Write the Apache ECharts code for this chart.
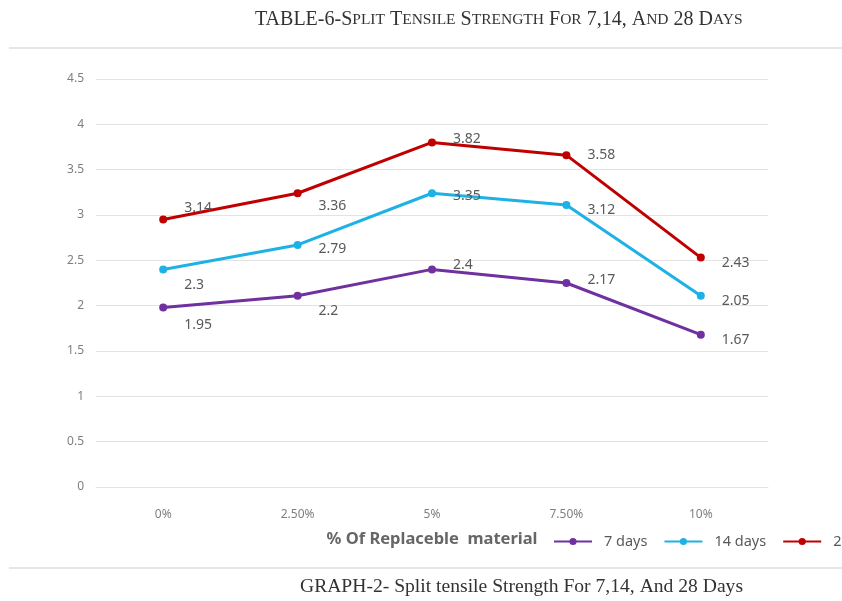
<!DOCTYPE html>
<html>
<head>
<meta charset="utf-8">
<script src="https://cdn.jsdelivr.net/npm/echarts@6/dist/echarts.min.js"></script>
<style>
  html, body { margin: 0; padding: 0; background: #fff; }
  #main { width: 842px; height: 601px; }
</style>
</head>
<body>
<div id="main"></div>
<script>
// categories on the x axis
const categories = ['0%', '2.50%', '5%', '7.50%', '10%'];
// plotted positions
const days7 = [1.98, 2.11, 2.40, 2.25, 1.68];
const days14 = [2.40, 2.67, 3.24, 3.11, 2.11];
const days28 = [2.95, 3.24, 3.80, 3.66, 2.53];
// data label texts printed next to each point
const labels7 = ['1.95', '2.2', '2.4', '2.17', '1.67'];
const labels14 = ['2.3', '2.79', '3.35', '3.12', '2.05'];
const labels28 = ['3.14', '3.36', '3.82', '3.58', '2.43'];
const seriesNames = ['7 days', '14 days', '28 days'];

// vertical nudge of each label (styling only)
const labelDy = [
  [18, 15, -4, -3, 5],
  [16, 4, 3, 5, 5],
  [-12, 13, -3, 0, 5]
];
const colors = ['#7030a0', '#1eb1e6', '#c00000'];

// turn "Split" into S + small "PLIT" for the small-caps title
const smallCaps = (str) => {
  let out = '';
  let run = '';
  let runSmall = null;
  const flush = () => {
    if (run) out += '{' + (runSmall ? 's' : 'b') + '|' + run + '}';
    run = '';
  };
  for (const ch of str) {
    const isSmall = ch !== ch.toUpperCase();
    if (runSmall !== null && isSmall !== runSmall) flush();
    runSmall = isSmall;
    run += ch.toUpperCase();
  }
  flush();
  return out;
};

const makeSeries = (i, values, texts) => ({
  name: seriesNames[i],
  type: 'line',
  data: values.map((v, k) => ({
    value: v,
    label: { offset: [0, labelDy[i][k]], formatter: texts[k] }
  })),
  symbol: 'circle',
  symbolSize: 8,
  lineStyle: { width: 3, color: colors[i] },
  itemStyle: { color: colors[i] },
  label: {
    show: true,
    position: 'right',
    distance: 17,
    color: '#595959',
    fontSize: 14,
    fontFamily: 'Noto Sans'
  },
  z: 3 + i
});

const chart = echarts.init(document.getElementById('main'), null, { renderer: 'canvas' });
chart.setOption({
  backgroundColor: '#fff',
  animation: false,
  title: {
    text: smallCaps('TABLE-6-Split Tensile Strength For 7,14, And 28 Days'),
    left: 250,
    top: 5,
    textStyle: {
      fontWeight: 'normal',
      rich: {
        b: { fontFamily: 'Liberation Serif', fontSize: 20, fontWeight: 'normal', color: '#333' },
        s: { fontFamily: 'Liberation Serif', fontSize: 15.5, fontWeight: 'normal', color: '#333' }
      }
    }
  },
  graphic: [
    { type: 'line', shape: { x1: 9, y1: 48, x2: 842, y2: 48 }, style: { stroke: '#e6e6e6', lineWidth: 2 } },
    { type: 'line', shape: { x1: 9, y1: 568, x2: 842, y2: 568 }, style: { stroke: '#e6e6e6', lineWidth: 2 } },
    {
      type: 'text',
      left: 300,
      top: 577,
      style: {
        text: 'GRAPH-2- Split tensile Strength For 7,14, And 28 Days',
        font: '19.6px "Liberation Serif"',
        fill: '#333'
      }
    }
  ],
  legend: {
    data: seriesNames,
    left: 548,
    top: 529,
    width: 500,
    itemWidth: 38,
    itemHeight: 9,
    itemGap: 16,
    textStyle: { color: '#595959', fontSize: 14.5, fontFamily: 'Noto Sans', padding: [0, 0, 0, 7] }
  },
  grid: { left: 96, right: 74, top: 79, bottom: 114 },
  xAxis: {
    type: 'category',
    data: categories,
    boundaryGap: true,
    name: '% Of Replaceble  material',
    nameLocation: 'middle',
    nameGap: 44,
    nameTextStyle: {
      color: '#666',
      fontSize: 16.5,
      fontWeight: 'bold',
      fontFamily: 'Noto Sans'
    },
    axisLine: { show: true, lineStyle: { color: '#e3e3e3' } },
    axisTick: { show: false },
    axisLabel: { color: '#7f7f7f', fontSize: 12, fontFamily: 'Noto Sans', margin: 22 }
  },
  yAxis: {
    type: 'value',
    min: 0,
    max: 4.5,
    interval: 0.5,
    axisLine: { show: false },
    axisTick: { show: false },
    axisLabel: { color: '#7f7f7f', fontSize: 12, fontFamily: 'Noto Sans', margin: 12 },
    splitLine: { lineStyle: { color: '#e3e3e3', width: 1 } }
  },
  series: [
    makeSeries(0, days7, labels7),
    makeSeries(1, days14, labels14),
    makeSeries(2, days28, labels28)
  ]
});
</script>
</body>
</html>
